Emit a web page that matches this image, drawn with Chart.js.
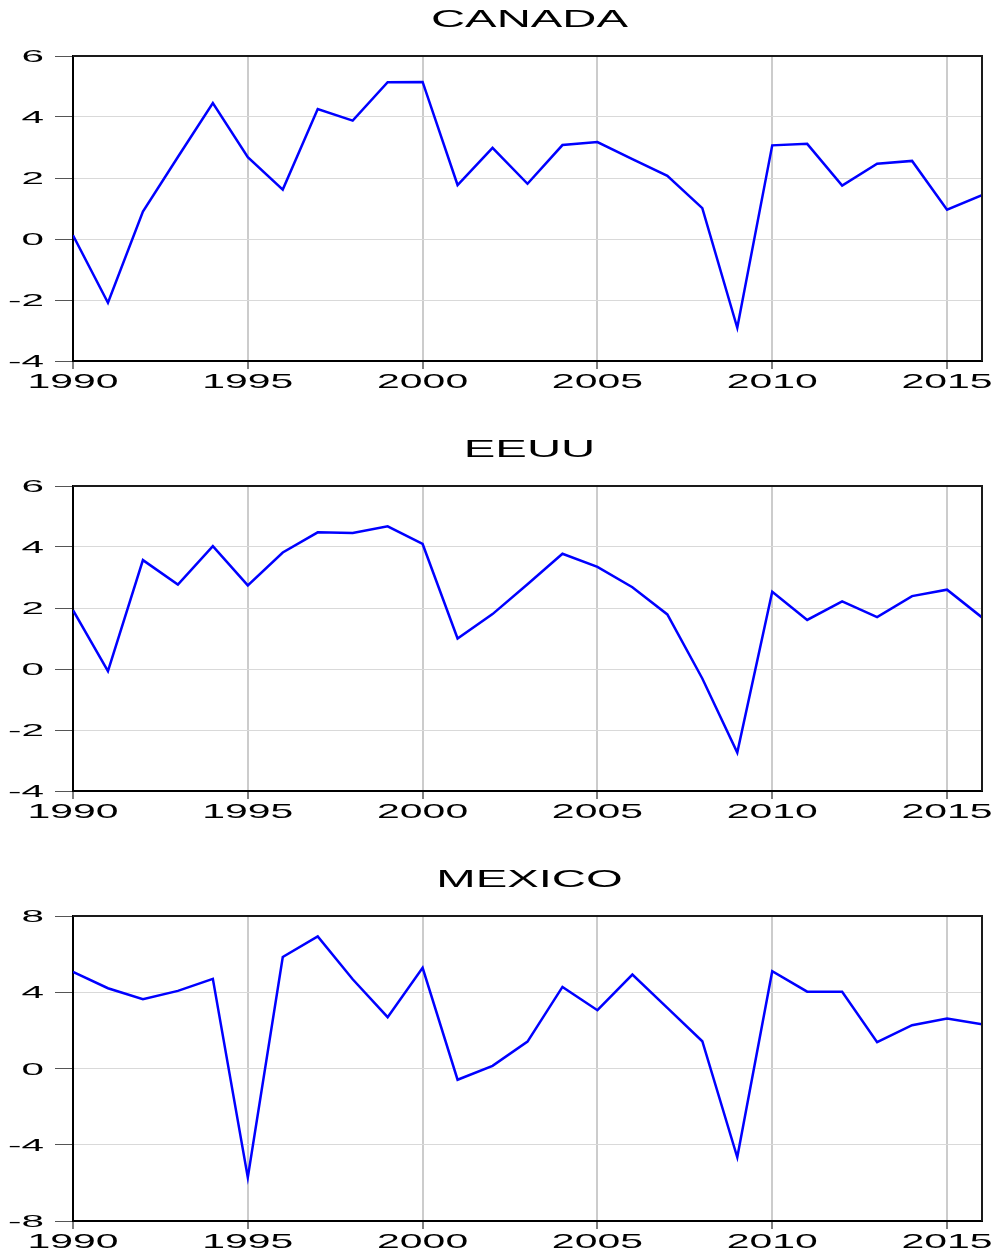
<!DOCTYPE html>
<html>
<head>
<meta charset="utf-8">
<script src="https://cdn.jsdelivr.net/npm/chart.js@4/dist/chart.umd.min.js"></script>
<style>
  html, body { margin: 0; padding: 0; background: #ffffff; }
  #wrap { position: relative; width: 997px; height: 1252px; overflow: hidden; }
  canvas { position: absolute; left: 0; }
</style>
</head>
<body>
<div id="wrap">
  <canvas id="c1" width="997" height="430" style="top:0px"></canvas>
  <canvas id="c2" width="997" height="430" style="top:430px"></canvas>
  <canvas id="c3" width="997" height="392" style="top:860px"></canvas>
</div>
<script>
// ---- data ----
const years = [1990,1991,1992,1993,1994,1995,1996,1997,1998,1999,2000,2001,2002,2003,2004,2005,2006,2007,2008,2009,2010,2011,2012,2013,2014,2015,2016];
const canada = [0.12,-2.09,0.90,2.69,4.46,2.68,1.62,4.26,3.88,5.14,5.15,1.77,2.99,1.81,3.08,3.18,2.62,2.07,1.01,-2.91,3.07,3.12,1.75,2.47,2.56,0.96,1.44];
const eeuu = [1.93,-0.07,3.57,2.77,4.03,2.74,3.82,4.48,4.46,4.68,4.10,1.00,1.80,2.78,3.78,3.35,2.68,1.79,-0.31,-2.74,2.53,1.61,2.22,1.70,2.39,2.60,1.69];
const mexico = [5.07,4.21,3.63,4.07,4.70,-5.71,5.85,6.93,4.68,2.69,5.28,-0.59,0.14,1.41,4.28,3.06,4.93,3.18,1.43,-4.66,5.10,4.03,4.02,1.38,2.27,2.62,2.32];
const xTickLabels = ['1990','1995','2000','2005','2010','2015'];
const yTicksCanada = ['-4','-2','0','2','4','6'];
const yTicksEeuu = ['-4','-2','0','2','4','6'];
const yTicksMexico = ['-8','-4','0','4','8'];
const titles = ['CANADA','EEUU','MEXICO'];

// ---- stretched text plugin (tick labels + title) ----
function stretchedText(ctx, txt, x, y, size, sx, align) {
  ctx.save();
  ctx.translate(x, y);
  ctx.scale(sx, 1);
  ctx.font = size + 'px "Liberation Sans", Arial, sans-serif';
  ctx.fillStyle = '#000';
  ctx.textAlign = align;
  ctx.textBaseline = 'alphabetic';
  ctx.fillText(txt, 0, 0);
  ctx.restore();
}

const framePlugin = {
  id: 'frame',
  afterDraw(chart, args, opts) {
    const ctx = chart.ctx;
    const a = chart.chartArea;
    const xs = chart.scales.x, ys = chart.scales.y;
    // top and right frame
    ctx.save();
    ctx.strokeStyle = '#1a1a1a';
    ctx.lineWidth = 2;
    ctx.beginPath();
    ctx.moveTo(a.left, a.top); ctx.lineTo(a.right, a.top); ctx.lineTo(a.right, a.bottom);
    ctx.stroke();
    ctx.restore();
    // y tick labels
    opts.yLabels.forEach(l => {
      const py = ys.getPixelForValue(Number(l));
      stretchedText(ctx, l, 44, py + 6, 16.5, 2.45, 'right');
    });
    // x tick labels
    xTickLabels.forEach(l => {
      const px = xs.getPixelForValue(Number(l));
      stretchedText(ctx, l, px, a.bottom + 27, 21, 1.95, 'center');
    });
    // title
    stretchedText(ctx, opts.title, (a.left + a.right) / 2 + 2, 27, 24, 1.97, 'center');
  }
};

function makeChart(id, values, yLabels, title, canvasH) {
  const ymin = Number(yLabels[0]);
  const ymax = Number(yLabels[yLabels.length - 1]);
  const step = Number(yLabels[1]) - Number(yLabels[0]);
  return new Chart(document.getElementById(id), {
    type: 'line',
    data: {
      datasets: [{
        data: years.map((yr, i) => ({ x: yr, y: values[i] })),
        borderColor: '#0000ff',
        borderWidth: 2.5,
        pointRadius: 0,
        tension: 0,
        fill: false
      }]
    },
    options: {
      responsive: false,
      animation: false,
      devicePixelRatio: 1,
      layout: { padding: { left: 55, right: 15, top: 56, bottom: canvasH - 361 - 8 } },
      plugins: {
        legend: { display: false },
        title: { display: false },
        tooltip: { enabled: false },
        frame: { yLabels: yLabels, title: title }
      },
      scales: {
        x: {
          type: 'linear',
          min: 1990,
          max: 2016,
          afterFit(s) { s.height = 8; },
          afterBuildTicks(s) { s.ticks = xTickLabels.map(v => ({ value: Number(v) })); },
          ticks: { display: false },
          grid: { color: '#cccccc', lineWidth: 2, drawTicks: true, tickLength: 8, tickColor: '#000', tickWidth: 1 },
          border: { display: true, color: '#000', width: 2 }
        },
        y: {
          min: ymin,
          max: ymax,
          afterFit(s) { s.width = 18; },
          afterBuildTicks(s) { s.ticks = yLabels.map(v => ({ value: Number(v) })); },
          ticks: { display: false, stepSize: step },
          grid: { color: '#d9d9d9', lineWidth: 1, drawTicks: true, tickLength: 18, tickColor: '#555', tickWidth: 1 },
          border: { display: true, color: '#000', width: 2 }
        }
      }
    },
    plugins: [framePlugin]
  });
}

makeChart('c1', canada, yTicksCanada, titles[0], 430);
makeChart('c2', eeuu, yTicksEeuu, titles[1], 430);
makeChart('c3', mexico, yTicksMexico, titles[2], 392);
</script>
</body>
</html>
